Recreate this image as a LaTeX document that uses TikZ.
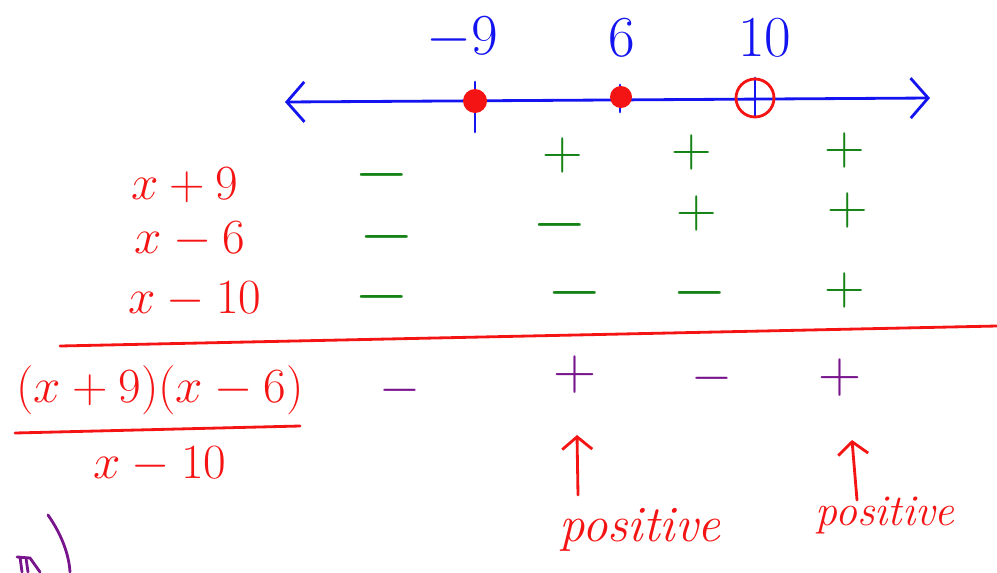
\RequirePackage{fix-cm}
\documentclass[tikz,border=0pt]{standalone}
\usepackage{tikz}
\usetikzlibrary{arrows.meta}

\definecolor{penblue}{RGB}{20,20,240}
\definecolor{penred}{RGB}{245,20,20}
\definecolor{pengreen}{RGB}{20,130,20}
\definecolor{penpurple}{RGB}{120,20,140}

\begin{document}
\begin{tikzpicture}[x=0.02cm, y=-0.02cm, line cap=round,
		pen/.style={line width=1.6pt},
		txt/.style={inner sep=0pt, font=\fontsize{28}{32}\selectfont},
		sgnm/.style={inner sep=0pt, font=\fontsize{40}{40}\selectfont, pengreen},
		sgnp/.style={inner sep=0pt, font=\fontsize{32}{32}\selectfont, pengreen},
		resm/.style={inner sep=0pt, font=\fontsize{30}{30}\selectfont, penpurple},
		resp/.style={inner sep=0pt, font=\fontsize{34}{34}\selectfont, penpurple}]
		\useasboundingbox (0,0) rectangle (997,572);
		% number line
		\coordinate (lft) at (285,102);
		\coordinate (rgt) at (930,98);
		\draw[pen, penblue, {Straight Barb[length=3.5mm,width=8mm]}-{Straight Barb[length=3.5mm,width=8mm]}] (lft) -- (rgt);
		\draw[pen, penblue] (475,82) -- (475,132);
		\draw[pen, penblue] (620,85) -- (620,112);
		\draw[pen, penblue] (755,78) -- (755,116);
		\node[txt, penblue, font=\fontsize{33}{36}\selectfont] (m9) at (462,38) {$-9$};
		\node[txt, penblue, font=\fontsize{33}{36}\selectfont] (p6) at (622,38) {$6$};
		\node[txt, penblue, font=\fontsize{33}{36}\selectfont] (p10) at (765,38) {$10$};
		\fill[penred] (475,101) circle (12);
		\fill[penred] (621,97) circle (11);
		\draw[pen, penred] (755,98) circle (19);
		% factors
		\node[txt, penred] (f1) at (185,185) {$x+9$};
		\node[txt, penred] (f2) at (190,240) {$x-6$};
		\node[txt, penred] (f3) at (195,300) {$x-10$};
		\node[sgnm] (s11) at (382,175) {$-$};
		\node[sgnp] (s12) at (563,155) {$+$};
		\node[sgnp] (s13) at (692,152) {$+$};
		\node[sgnp] (s14) at (845,150) {$+$};
		\node[sgnm] (s21) at (387,237) {$-$};
		\node[sgnm] (s22) at (560,225) {$-$};
		\node[sgnp] (s23) at (697,213) {$+$};
		\node[sgnp] (s24) at (848,210) {$+$};
		\node[sgnm] (s31) at (382,297) {$-$};
		\node[sgnm] (s32) at (575,293) {$-$};
		\node[sgnm] (s33) at (700,293) {$-$};
		\node[sgnp] (s34) at (845,290) {$+$};
		\draw[pen, penred] (60,346) -- (997,326);
		% quotient
		\node[txt, penred] (num) at (160,390) {$(x+9)(x-6)$};
		\draw[pen, penred] (15,433) -- (300,426);
		\node[txt, penred] (den) at (160,465) {$x-10$};
		\node[resm] (r1) at (400,390) {$-$};
		\node[resp] (r2) at (575,375) {$+$};
		\node[resm] (r3) at (712,378) {$-$};
		\node[resp] (r4) at (840,378) {$+$};
		% positive intervals
		\coordinate (a1) at (577,435);
		\coordinate (b1) at (578,495);
		\coordinate (a2) at (852,440);
		\coordinate (b2) at (857,500);
		\draw[pen, penred, -{Straight Barb[length=2.5mm,width=6mm]}] (b1) -- (a1);
		\draw[pen, penred, -{Straight Barb[length=2.5mm,width=6mm]}] (b2) -- (a2);
		\node[txt, penred, font=\fontsize{29}{32}\itshape] (w1) at (640,530) {positive};
		\node[txt, penred, font=\fontsize{25}{28}\itshape] (w2) at (885,515) {positive};
		% stray marks
		\draw[pen, penpurple] (48,515) .. controls (62,535) and (69,555) .. (70,572);
		\draw[pen, penpurple] (20,557) -- (22,572);
		\draw[pen, penpurple] (26,558) -- (28,572);
		\draw[pen, penpurple] (17,557) -- (30,558) -- (40,572);
	\end{tikzpicture}
\end{document}
